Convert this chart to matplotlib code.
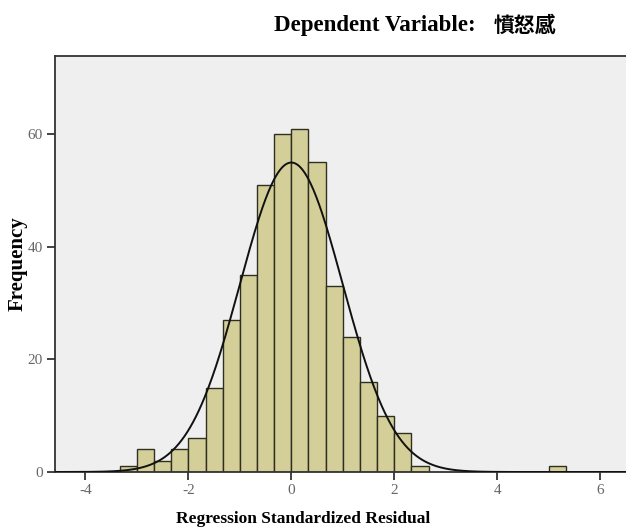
import numpy as np
import matplotlib.pyplot as plt

# histogram of standardized residuals, bins of width 1/3
bin_width = 1 / 3
bin_start = [-10, -9, -8, -7, -6, -5, -4, -3, -2, -1, 0, 1, 2, 3, 4, 5, 6, 7, 15]  # in units of bin_width
counts = [1, 4, 2, 4, 6, 15, 27, 35, 51, 60, 61, 55, 33, 24, 16, 10, 7, 1, 1]

mean = 0.0
std_dev = 0.999
n_total = sum(counts)

title_latin = "Dependent Variable:"
title_cjk = "憤怒感"
xlabel = "Regression Standardized Residual"
ylabel = "Frequency"
xticks = [-4, -2, 0, 2, 4, 6]
yticks = [0, 20, 40, 60]

plt.rcParams['font.family'] = ['Liberation Serif', 'Noto Sans CJK TC', 'DejaVu Sans']
plt.rcParams['axes.unicode_minus'] = False

fig = plt.figure(figsize=(6.26, 5.31), dpi=100)
ax = fig.add_axes([55 / 626, 59 / 531, 1 - 55 / 626, 416 / 531])
ax.set_facecolor('#efefef')

lefts = np.array(bin_start) * bin_width
ax.bar(lefts, counts, width=bin_width, align='edge', color='#d4cf98',
       edgecolor='#2e2e22', linewidth=1.0, zorder=2)

# normal curve scaled to the histogram
xs = np.linspace(-4.6, 6.6, 600)
pdf = np.exp(-0.5 * ((xs - mean) / std_dev) ** 2) / (std_dev * np.sqrt(2 * np.pi))
ax.plot(xs, pdf * n_total * bin_width, color='#111111', linewidth=1.4, zorder=3)

ax.set_xlim(-4.59, 6.5)
ax.set_ylim(0, 73.9)
ax.set_xticks(xticks)
ax.set_yticks(yticks)
ax.tick_params(direction='out', length=6, width=1.2, colors='#222222',
               labelcolor='#666666', labelsize=11, pad=3)

for side in ['top', 'left', 'bottom']:
    ax.spines[side].set_linewidth(1.3)
    ax.spines[side].set_color('#333333')
ax.spines['right'].set_visible(False)

ax.set_xlabel(xlabel, fontsize=12.5, fontweight='bold')
ax.xaxis.set_label_coords((303 - 55) / 571, -(511 - 472) / 416)
ax.set_ylabel(ylabel, fontsize=15, fontweight='bold', labelpad=0)

# title: serif text followed by bold CJK
fig.text(274 / 626, 1 - 25 / 531, title_latin, fontsize=16.5, fontweight='bold',
         ha='left', va='center')
fig.text(556 / 626, 1 - 25 / 531, title_cjk, fontsize=15, fontweight='bold',
         family=['Noto Sans CJK TC'], ha='right', va='center')

fig.savefig('out.png', dpi=100, facecolor='white')
